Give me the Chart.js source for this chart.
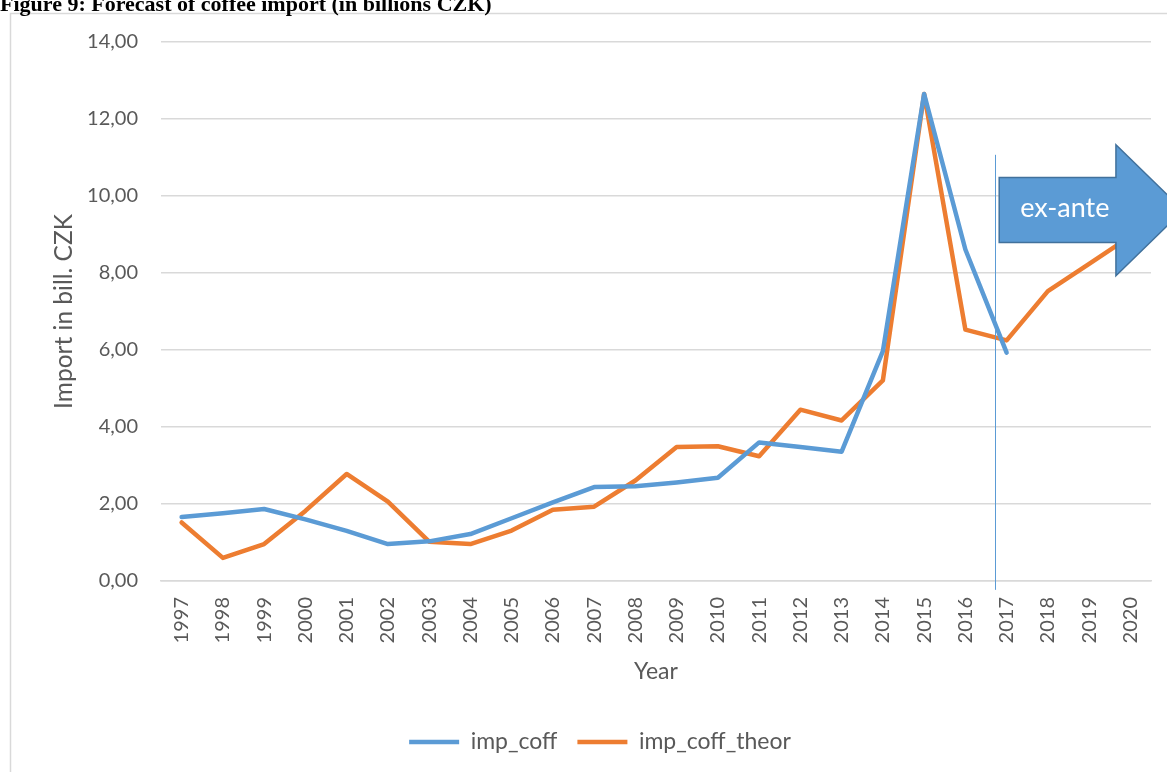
<!DOCTYPE html>
<html>
<head>
<meta charset="utf-8">
<script src="https://cdn.jsdelivr.net/npm/chart.js@4.4.1/dist/chart.umd.min.js"></script>
<style>
    html, body { margin: 0; padding: 0; background: #fff; }
    #wrap { position: relative; width: 1167px; height: 772px; }
</style>
</head>
<body>
<div id="wrap"><canvas id="forecast"></canvas></div>
<script>

    // Coffee import, billions CZK
    const years = ['1997', '1998', '1999', '2000', '2001', '2002', '2003', '2004', '2005', '2006', '2007', '2008',
                   '2009', '2010', '2011', '2012', '2013', '2014', '2015', '2016', '2017', '2018', '2019', '2020'];

    const impCoff = [1.66, 1.76, 1.87, 1.60, 1.30, 0.96, 1.03, 1.22, 1.63, 2.04, 2.44, 2.46,
                     2.56, 2.68, 3.60, 3.48, 3.36, 5.97, 12.65, 8.61, 5.93, null, null, null];

    const impCoffTheor = [1.52, 0.60, 0.96, 1.82, 2.78, 2.06, 1.02, 0.96, 1.31, 1.85, 1.93, 2.61,
                          3.48, 3.50, 3.24, 4.45, 4.17, 5.21, 12.65, 6.53, 6.25, 7.53, 8.24, 8.95];

    const yTicks = [0, 2, 4, 6, 8, 10, 12, 14];

    const grey = '#595959';
    const gridGrey = '#D9D9D9';
    const fontFamily = "Lato, 'Open Sans', sans-serif";

    // frame, figure caption, forecast divider and the "ex-ante" arrow
    const decorations = {
        id: 'decorations',
        beforeDraw(chart) {
            const ctx = chart.ctx;
            ctx.save();
            ctx.strokeStyle = gridGrey;
            ctx.lineWidth = 1.5;
            ctx.strokeRect(10.5, 13.5, 1300, 900);

            ctx.fillStyle = '#000';
            ctx.font = "bold 22px 'Liberation Serif', 'Times New Roman', serif";
            ctx.textBaseline = 'alphabetic';
            ctx.fillText('Figure 9: Forecast of coffee import (in billions CZK)', 0, 11);
            ctx.restore();
        },
        afterDraw(chart) {
            const ctx = chart.ctx;
            const x = chart.scales.x;
            const y = chart.scales.y;

            ctx.save();
            // divider between fitted and forecast years
            const xs = Math.round(x.getPixelForValue(19.72)) + 0.5;
            ctx.strokeStyle = '#5B9BD5';
            ctx.lineWidth = 1;
            ctx.beginPath();
            ctx.moveTo(xs, y.getPixelForValue(11.07));
            ctx.lineTo(xs, y.getPixelForValue(-0.23));
            ctx.stroke();

            // block arrow
            const bodyL = x.getPixelForValue(19.82);
            const bodyR = x.getPixelForValue(22.65);
            const tip = x.getPixelForValue(24.28);
            const bodyT = y.getPixelForValue(10.48);
            const bodyB = y.getPixelForValue(8.79);
            const headT = y.getPixelForValue(11.33);
            const headB = y.getPixelForValue(7.93);
            const mid = (headT + headB) / 2;

            ctx.beginPath();
            ctx.moveTo(bodyL, bodyT);
            ctx.lineTo(bodyR, bodyT);
            ctx.lineTo(bodyR, headT);
            ctx.lineTo(tip, mid);
            ctx.lineTo(bodyR, headB);
            ctx.lineTo(bodyR, bodyB);
            ctx.lineTo(bodyL, bodyB);
            ctx.closePath();
            ctx.fillStyle = '#5B9BD5';
            ctx.fill();
            ctx.strokeStyle = '#41719C';
            ctx.lineWidth = 1.5;
            ctx.stroke();

            ctx.fillStyle = '#fff';
            ctx.font = '27px ' + fontFamily;
            ctx.textAlign = 'center';
            ctx.textBaseline = 'middle';
            ctx.fillText('ex-ante', x.getPixelForValue(21.41), y.getPixelForValue(9.67));
            ctx.restore();
        }
    };

    new Chart(document.getElementById('forecast'), {
        type: 'line',
        data: {
            labels: years,
            datasets: [{
                label: 'imp_coff',
                data: impCoff,
                borderColor: '#5B9BD5',
                backgroundColor: '#5B9BD5',
                borderWidth: 4.5,
                borderCapStyle: 'round',
                borderJoinStyle: 'round',
                pointRadius: 0,
                fill: false,
                tension: 0
            }, {
                label: 'imp_coff_theor',
                data: impCoffTheor,
                borderColor: '#ED7D31',
                backgroundColor: '#ED7D31',
                borderWidth: 4.5,
                borderCapStyle: 'round',
                borderJoinStyle: 'round',
                pointRadius: 0,
                fill: false,
                tension: 0
            }]
        },
        options: {
            responsive: true,
            maintainAspectRatio: false,
            animation: false,
            layout: {
                padding: { left: 49, right: 16, top: 42, bottom: 8.5 }
            },
            scales: {
                x: {
                    offset: true,
                    grid: { display: false, drawTicks: false },
                    border: { display: true, color: gridGrey, width: 1.5 },
                    ticks: {
                        color: grey,
                        font: { family: fontFamily, size: 20 },
                        minRotation: 90,
                        maxRotation: 90,
                        autoSkip: false,
                        padding: 16
                    },
                    title: {
                        display: true,
                        text: 'Year',
                        color: grey,
                        font: { family: fontFamily, size: 23 },
                        padding: { top: 0, bottom: 25 }
                    },
                    afterFit(scale) {
                        scale.height = 129.5;
                        scale.paddingLeft = 0;
                        scale.paddingRight = 0;
                    }
                },
                y: {
                    min: 0,
                    max: 14,
                    afterBuildTicks(scale) { scale.ticks = yTicks.map(v => ({ value: v })); },
                    grid: { color: gridGrey, lineWidth: 1.5, drawTicks: false },
                    border: { display: false },
                    ticks: {
                        color: grey,
                        font: { family: fontFamily, size: 20 },
                        padding: 23,
                        callback: v => v.toFixed(2).replace('.', ',')
                    },
                    title: {
                        display: true,
                        text: 'Import in bill. CZK',
                        color: grey,
                        font: { family: fontFamily, size: 24.5 },
                        padding: { top: 0, bottom: 0 }
                    },
                    afterFit(scale) { scale.width = 112; }
                }
            },
            plugins: {
                legend: {
                    position: 'bottom',
                    labels: {
                        color: grey,
                        font: { family: fontFamily, size: 23 },
                        usePointStyle: true,
                        pointStyle: 'line',
                        pointStyleWidth: 50,
                        padding: 20
                    }
                },
                tooltip: { enabled: false }
            }
        },
        plugins: [decorations]
    });

</script>
</body>
</html>
